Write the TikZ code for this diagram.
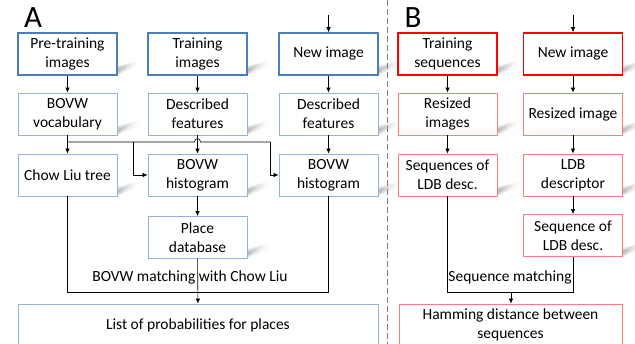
\documentclass[tikz,border=0pt]{standalone}
\usepackage{fontspec}
\setmainfont{Carlito}
\usetikzlibrary{arrows.meta,fadings}
\definecolor{bthick}{HTML}{4A7EBB}
\definecolor{bthin}{HTML}{95B3D7}
\definecolor{rthick}{HTML}{FF0000}
\definecolor{rthin}{HTML}{FF7C80}
\definecolor{dashgray}{HTML}{7F7F7F}
\begin{document}
\begin{tikzpicture}[x=1pt,y=-1pt,
  box/.style={rectangle, minimum width=99pt, minimum height=42pt, inner sep=0pt, align=center, font=\fontsize{15.5}{19}\selectfont, fill=white},
  bthk/.style={box, draw=bthick, line width=1.6pt},
  bthn/.style={box, draw=bthin, line width=0.9pt},
  rthk/.style={box, draw=rthick, line width=1.6pt},
  rthn/.style={box, draw=rthin, line width=0.9pt},
  lbl/.style={inner sep=0pt, font=\fontsize{15.5}{19}\selectfont},
  big/.style={inner sep=0pt, font=\fontsize{31}{31}\selectfont},
  arr/.style={-{Latex[length=5pt,width=4.5pt]}, line width=0.6pt},
  ln/.style={line width=0.6pt},
  shd/.style={black, fill opacity=0.13, path fading=east}]
\useasboundingbox (0,0) rectangle (635,344);
% shadows
\foreach \X/\Y in {117/75,247/75,378/75,117/135,247/135,378/135,117/196,247/196,378/196,247/258,
                   497/75,622/75,497/135,622/135,497/196,622/196,622/257}{
  \fill[shd] (\X-3,\Y+1) -- (\X+22,\Y-9) -- (\X+22,\Y-15) -- (\X-3,\Y-8) -- cycle;
  \fill[shd] (\X-3,\Y) -- (\X+18,\Y-10) -- (\X+18,\Y-13) -- (\X-3,\Y-6) -- cycle;
  \fill[shd] (\X-3,\Y-1) -- (\X+14,\Y-10.5) -- (\X+14,\Y-12) -- (\X-3,\Y-4) -- cycle;
}
% dashed separator
\draw[dashgray, line width=0.8pt, dash pattern=on 6pt off 3pt] (387,0) -- (387,344);
% labels
\node[big] (la) at (33,18) {A};
\node[big] (lb) at (413,18) {B};
% A nodes
\node[bthk] (pre) at (67.5,54) {Pre-training\\images};
\node[bthk] (tri) at (197.5,54) {Training\\images};
\node[bthk] (nia) at (328.5,54) {New image};
\node[bthn] (voc) at (67.5,114) {BOVW\\vocabulary};
\node[bthn] (dfa) at (197.5,114) {Described\\features};
\node[bthn] (dfb) at (328.5,114) {Described\\features};
\node[bthn] (clt) at (67.5,175) {Chow Liu tree};
\node[bthn] (bha) at (197.5,175) {BOVW\\histogram};
\node[bthn] (bhb) at (328.5,175) {BOVW\\histogram};
\node[bthn] (pdb) at (197.5,237.5) {Place\\database};
\node[bthn, minimum width=360pt] (lst) at (198,325) {List of probabilities for places};
% B nodes
\node[rthk] (trs) at (447.5,54) {Training\\sequences};
\node[rthk] (nib) at (573,54) {New image};
\node[rthn] (rsi) at (447.5,114) {Resized\\images};
\node[rthn] (rs1) at (573,114) {Resized image};
\node[rthn] (sql) at (447.5,175) {Sequences of\\LDB desc.};
\node[rthn] (ldb) at (573,175) {LDB\\descriptor};
\node[rthn] (sq1) at (573,235.5) {Sequence of\\LDB desc.};
\node[rthn, minimum width=223pt] (ham) at (510.5,325) {Hamming distance between\\sequences};
% A connectors
\coordinate (ta) at (328.5,15);
\draw[arr] (ta) -- (nia);
\draw[arr] (pre) -- (voc);
\draw[arr] (tri) -- (dfa);
\draw[arr] (nia) -- (dfb);
\draw[arr] (dfa) -- (bha);
\draw[arr] (dfb) -- (bhb);
\draw[arr] (voc) -- (clt);
\draw[arr] (bha) -- (pdb);
\draw[arr] (pdb) -- (lst);
\coordinate (j0) at (67.5,142);
\coordinate (j1) at (133,142);
\coordinate (j2) at (270,142);
\draw[ln] (j0) -- (194.5,142) .. controls (194.5,137.5) and (200.5,137.5) .. (200.5,142) -- (j2);
\draw[arr] (j1) |- (bha.west);
\draw[arr] (j2) |- (bhb.west);
\coordinate (ma) at (67.5,292);
\draw[ln] (clt.south) -- (ma) -| (bhb.south);
\node[lbl] (mla) at (190,277) {BOVW matching with Chow Liu};
% B connectors
\coordinate (tb) at (573,15);
\draw[arr] (tb) -- (nib);
\draw[arr] (trs) -- (rsi);
\draw[arr] (rsi) -- (sql);
\draw[arr] (nib) -- (rs1);
\draw[arr] (rs1) -- (ldb);
\draw[arr] (ldb) -- (sq1);
\coordinate (mb) at (447.5,292);
\draw[ln] (sql.south) -- (mb) -| (sq1.south);
\coordinate (mc) at (511,292);
\draw[arr] (mc) -- (ham.north -| mc);
\node[lbl] (mlb) at (510,277) {Sequence matching};
\end{tikzpicture}
\end{document}
